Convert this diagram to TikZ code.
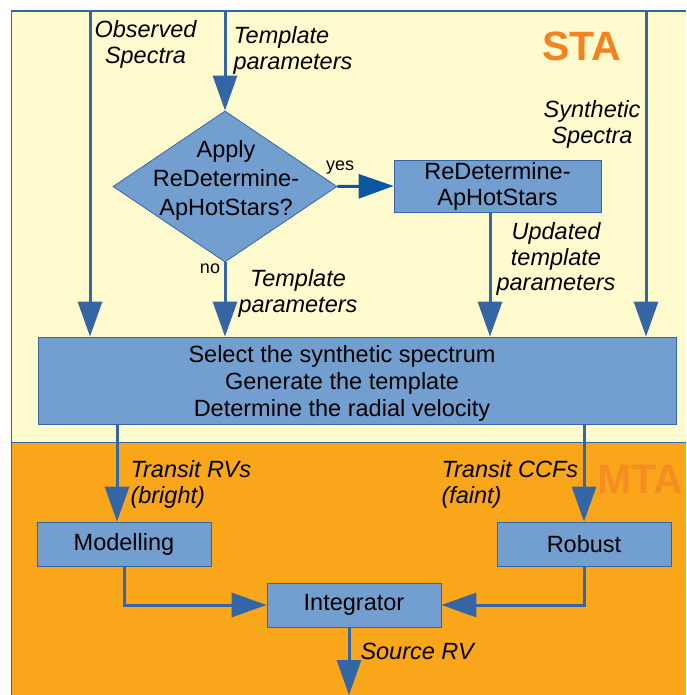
\documentclass[tikz,border=0pt]{standalone}
\usepackage{fontspec}
\setmainfont{Liberation Sans}
\usetikzlibrary{arrows.meta, shapes.geometric}

\definecolor{staback}{HTML}{FFFBCF}
\definecolor{mtaback}{HTML}{F9A61B}
\definecolor{flowblue}{HTML}{3465A4}
\definecolor{yesblue}{HTML}{0B56A0}
\definecolor{boxfill}{HTML}{729FCF}
\definecolor{staorange}{HTML}{F58220}
\definecolor{mtaorange}{HTML}{F68D24}

\begin{document}
\begin{tikzpicture}[x=1pt, y=-1pt, line width=3pt,
    flow/.style={draw=flowblue, -{Triangle[length=35pt, width=24pt]}},
    box/.style={draw=flowblue, fill=boxfill, line width=0.8pt, inner sep=0pt, align=center, font=\fontsize{23.5}{26}\selectfont},
    boxtext/.style={inner sep=0pt, align=center, font=\fontsize{23.5}{27}\selectfont},
    lbl/.style={inner sep=0pt, font=\fontsize{23.5}{25.5}\selectfont\itshape},
    small/.style={inner sep=0pt, font=\fontsize{18}{20}\selectfont},
    area/.style={inner sep=0pt, font=\fontsize{41}{45}\selectfont\bfseries}]

\useasboundingbox (0,0) rectangle (686,695);
\fill[white] (0,0) rectangle (686,695);

% draw the two areas
\fill[staback] (11,11) rectangle (686,442.5);
\fill[mtaback] (11,442.5) rectangle (686,695);
\draw[flowblue, line width=1.2pt] (686,11) -- (11.5,11) -- (11.5,695);
\draw[flowblue, line width=1.2pt] (11,442.5) -- (686,442.5);

\node[area, text=staorange] (sta) at (582,46) {STA};
\node[area, text=mtaorange] (mta) at (640,479) {MTA};

% draw boxes
\node[draw=flowblue, fill=boxfill, line width=0.8pt, diamond, minimum width=224pt, minimum height=151pt, inner sep=0pt] (apply) at (225,186.5) {};
\node[boxtext, font=\fontsize{23.5}{29}\selectfont] (applytext) at (226,180) {Apply\\ReDetermine-\\ApHotStars?};
\node[box, minimum width=207pt, minimum height=52pt] (redet) at (497.5,186) {ReDetermine-\\ApHotStars};
\node[box, minimum width=638pt, minimum height=87pt] (select) at (357,380.5) {};
\node[boxtext] (selecttext) at (342,383) {Select the synthetic spectrum\\Generate the template\\Determine the radial velocity};
\node[box, minimum width=174pt, minimum height=44pt] (model) at (124,544) {Modelling};
\node[box, minimum width=174pt, minimum height=44pt] (robust) at (584,544) {Robust};
\node[box, minimum width=174pt, minimum height=44pt] (integ) at (354,605) {Integrator};

% free ends of the arrows
\coordinate (obstop) at (90,12.5);
\coordinate (tpltop) at (225,12.5);
\coordinate (syntop) at (646,12.5);
\coordinate (updx) at (490,0);
\coordinate (rvx) at (117,0);
\coordinate (srcx) at (349,0);
\coordinate (srcend) at (349,695);

% draw arrows
\draw[flow] (obstop) -- (obstop |- select.north);
\draw[flow] (tpltop) -- (apply.north);
\draw[flow, draw=yesblue] (apply.east) -- (redet.west);
\draw[flow] (apply.south) -- (apply.south |- select.north);
\draw[flow] (redet.south -| updx) -- (select.north -| updx);
\draw[flow] (syntop) -- (syntop |- select.north);
\draw[flow] (select.south -| rvx) -- (model.north -| rvx);
\draw[flow] (select.south -| robust.north) -- (robust.north);
\draw[flow] (model.south) |- (integ.west);
\draw[flow] (robust.south) |- (integ.east);
\draw[flow] (integ.south -| srcx) -- (srcend);

% draw labels
\node[lbl, anchor=north, align=center] (obslbl) at (145.5,19) {Observed\\Spectra};
\node[lbl, anchor=north west, align=left] (tpllbl) at (232,25) {Template\\parameters};
\node[lbl, anchor=north, align=center] (synlbl) at (592,99) {Synthetic\\Spectra};
\node[lbl, anchor=north, align=center] (updlbl) at (556,221) {Updated\\template\\parameters};
\node[lbl, anchor=north, align=center] (nolbl) at (298,268) {Template\\parameters};
\node[small] (yes) at (340,168) {yes};
\node[small] (no) at (210,269) {no};
\node[lbl, anchor=north west, align=left] (rvlbl) at (129,459) {Transit RVs\\(bright)};
\node[lbl, anchor=north west, align=left] (ccflbl) at (440,459) {Transit CCFs\\(faint)};
\node[lbl, anchor=north west] (srclbl) at (359,642) {Source RV};

\end{tikzpicture}
\end{document}
